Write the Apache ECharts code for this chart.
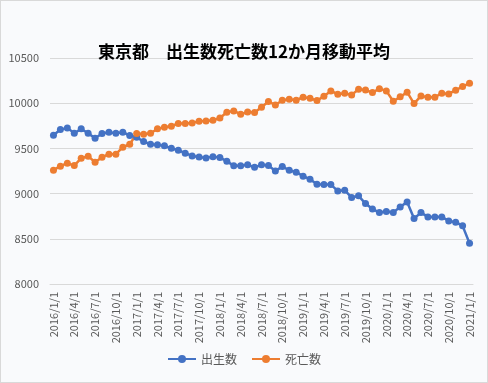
<!DOCTYPE html>
<html><head><meta charset="utf-8">
<script src="https://cdn.jsdelivr.net/npm/echarts@6/dist/echarts.min.js"></script>
<style>
html,body{margin:0;padding:0;background:#fff;}
#c{width:486px;height:381px;border:1px solid #d9d9d9;background:#f9fafc;}
</style></head><body>
<div id="c"></div>
<script>
var categories = [
 "2016/1/1","2016/2/1","2016/3/1","2016/4/1","2016/5/1","2016/6/1","2016/7/1","2016/8/1","2016/9/1","2016/10/1","2016/11/1","2016/12/1",
 "2017/1/1","2017/2/1","2017/3/1","2017/4/1","2017/5/1","2017/6/1","2017/7/1","2017/8/1","2017/9/1","2017/10/1","2017/11/1","2017/12/1",
 "2018/1/1","2018/2/1","2018/3/1","2018/4/1","2018/5/1","2018/6/1","2018/7/1","2018/8/1","2018/9/1","2018/10/1","2018/11/1","2018/12/1",
 "2019/1/1","2019/2/1","2019/3/1","2019/4/1","2019/5/1","2019/6/1","2019/7/1","2019/8/1","2019/9/1","2019/10/1","2019/11/1","2019/12/1",
 "2020/1/1","2020/2/1","2020/3/1","2020/4/1","2020/5/1","2020/6/1","2020/7/1","2020/8/1","2020/9/1","2020/10/1","2020/11/1","2020/12/1",
 "2021/1/1"];
var births = [
 9646,9708,9727,9668,9716,9668,9613,9664,9679,9668,9679,9642,
 9624,9575,9546,9539,9528,9502,9480,9447,9417,9406,9395,9409,
 9398,9359,9307,9307,9318,9292,9318,9310,9251,9299,9259,9237,
 9193,9159,9104,9100,9100,9030,9038,8956,8975,8890,8830,8790,
 8801,8790,8853,8908,8724,8790,8742,8742,8742,8698,8684,8643,
 8451];
var deaths = [
 9259,9303,9336,9310,9392,9414,9347,9403,9436,9436,9513,9546,
 9664,9657,9668,9716,9734,9746,9775,9775,9782,9801,9804,9812,
 9837,9900,9915,9878,9904,9896,9956,10018,9981,10033,10044,10033,
 10066,10055,10029,10077,10136,10100,10111,10092,10155,10146,10117,10161,
 10136,10022,10070,10122,9996,10081,10066,10066,10111,10103,10144,10184,
 10221];
var seriesNames = ["出生数","死亡数"];
var titleText = "東京都　出生数死亡数12か月移動平均";

var ff = "'Noto Sans CJK JP', 'Noto Sans', sans-serif";
var chart = echarts.init(document.getElementById('c'));
chart.setOption({
  backgroundColor: '#f9fafc',
  animation: false,
  textStyle: {fontFamily: ff},
  title: {
    text: titleText, left: 'center', top: 37,
    textStyle: {fontFamily: ff, fontSize: 17, fontWeight: 'bold', color: '#000'}
  },
  legend: {
    bottom: 12, left: 'center', itemWidth: 28, itemHeight: 10, itemGap: 14,
    textStyle: {fontFamily: ff, fontSize: 12, color: '#595959'},
    data: seriesNames
  },
  grid: {left: 49, right: 14, top: 57, bottom: 98},
  xAxis: {
    type: 'category', data: categories, boundaryGap: true,
    axisLine: {lineStyle: {color: '#d9d9d9'}},
    axisTick: {show: false},
    axisLabel: {rotate: 90, interval: 2, fontSize: 11, color: '#595959', fontFamily: ff, margin: 8}
  },
  yAxis: {
    type: 'value', min: 8000, max: 10500, interval: 500,
    axisLine: {show: false}, axisTick: {show: false},
    splitLine: {lineStyle: {color: '#d9d9d9'}},
    axisLabel: {fontSize: 11, color: '#595959', fontFamily: ff, margin: 11,
      formatter: function (v) { return String(v); }}
  },
  series: [
    {name: seriesNames[0], type: 'line', data: births, color: '#4472C4',
     symbol: 'circle', symbolSize: 7, showSymbol: true, showAllSymbol: true,
     lineStyle: {width: 2.5}},
    {name: seriesNames[1], type: 'line', data: deaths, color: '#ED7D31',
     symbol: 'circle', symbolSize: 7, showSymbol: true, showAllSymbol: true,
     lineStyle: {width: 2.5}}
  ]
});
</script>
</body></html>
